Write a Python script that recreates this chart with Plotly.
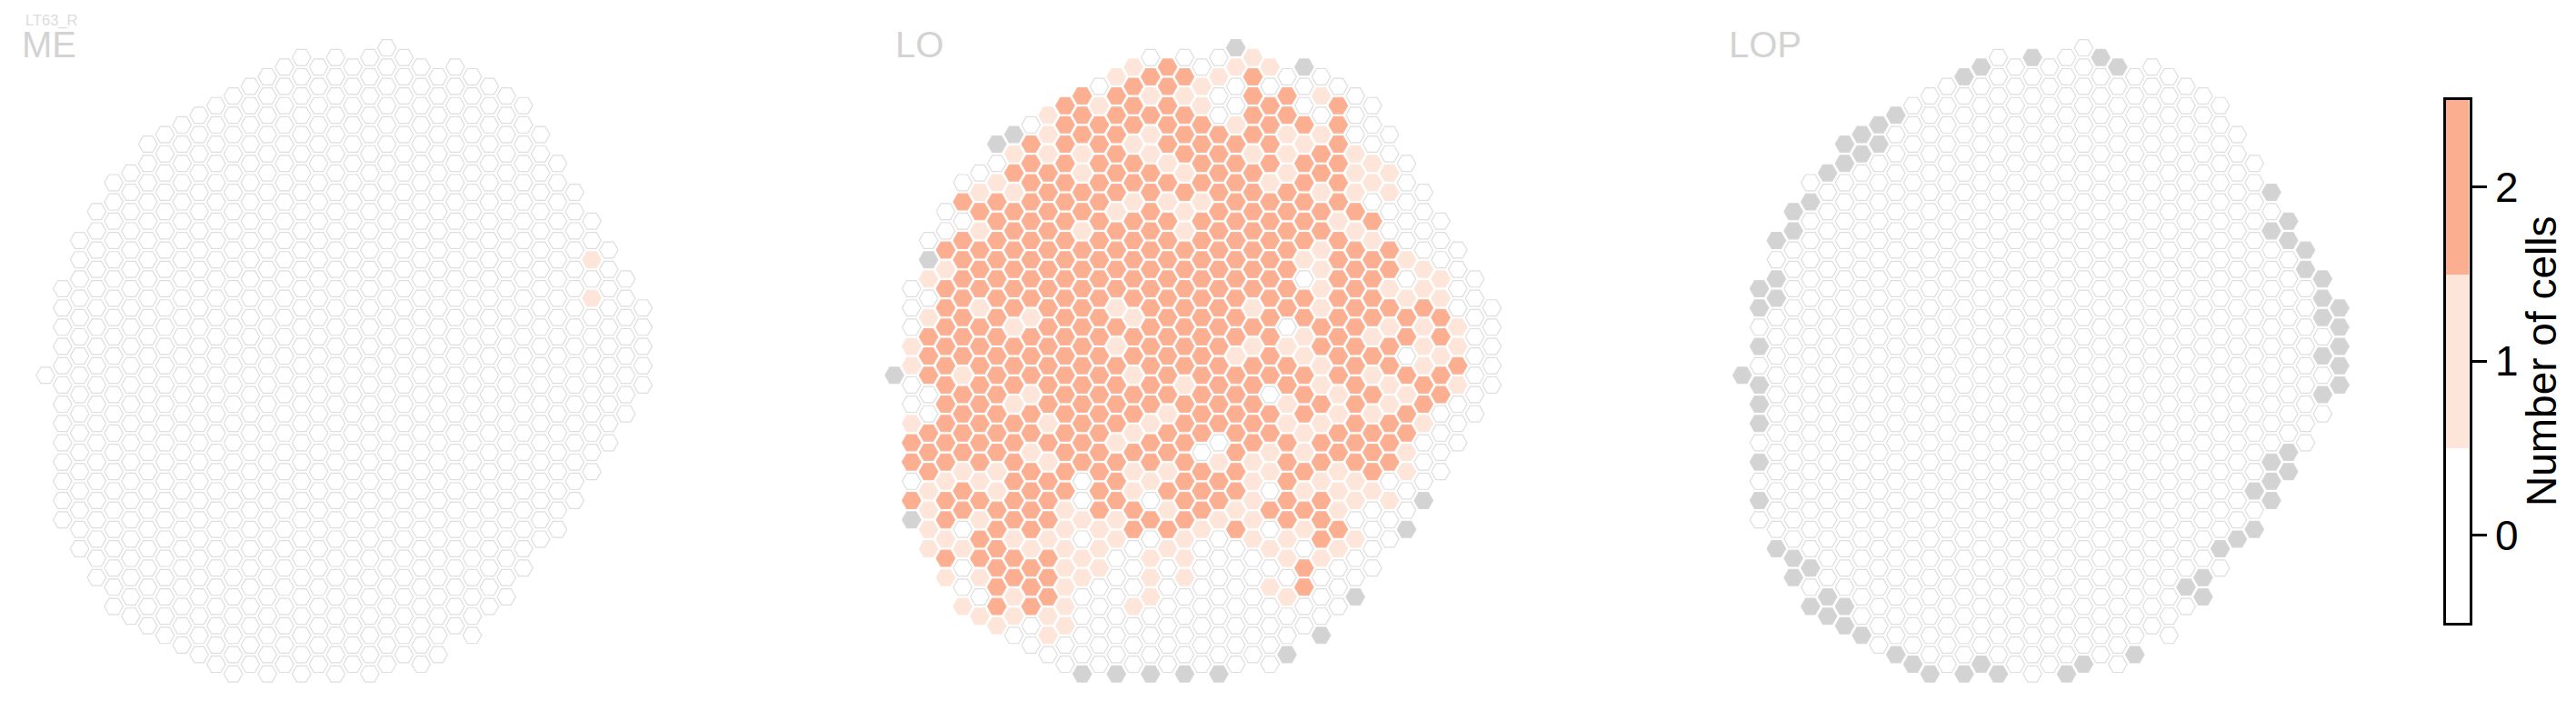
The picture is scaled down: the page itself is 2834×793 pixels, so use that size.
import plotly.graph_objects as go

W, H = 2834, 793

# Hex lattice: each row k holds columns first..last in steps of 2
ROW_FIRST = [0,-5,-6,-7,-8,-9,-10,-11,-12,-13,-14,-13,-14,-15,-16,-15,-16,-17,-16,-17,-18,-17,-18,-17,-18,-19,-18,-19,-18,-19,-18,-19,-18,-19,-20,-19,-18,-19,-18,-19,-18,-19,-18,-19,-18,-19,-18,-19,-18,-19,-18,-17,-18,-17,-16,-17,-16,-15,-16,-15,-14,-13,-12,-11,-10,-9]
ROW_LAST = [0,1,4,5,6,7,8,7,8,9,8,9,10,9,10,11,10,11,12,11,12,13,12,13,14,13,14,15,14,15,14,15,14,15,14,15,14,13,14,13,12,13,12,11,12,11,10,11,10,9,10,9,8,7,8,7,6,7,6,5,4,5,2,3,2,-1]

# Number of cells per hex, row by row (x = no data)
LO_ROWS = [
    "x", "0001", "12011x", "1221200", "02210000", "221102210", "2122102020", "1222202200",
    "02222212220", "x12212221100", "x22212222120", "111212211210", "0222212222210",
    "0221221221211", "01222222212210", "11222222221110", "22222111222200", "022221212222200",
    "022222222221200", "012212212222100", "0222222222222100", "2222222222212200",
    "x222222222212210", "1222222222212210", "12222222222022010",
    "02222222222212110",
    "02222222222222110", "021222122212122200", "12212212222222220",
    "022122222220221110", "22222222222121220", "122222122211222110",
    "22222222212122010", "122222222222122120", "x21222212222221220",
    "022222221222121210", "02212222220212120", "02212222222122120",
    "02222221222211200", "12221221222112210", "2222221222212220",
    "22222212202222200", "2221222202112210", "2222122221122220",
    "2112221122121210", "0112202122121100", "121222122201110",
    "222220202212211x", "122212212122100", "x21221122112200",
    "10221122120120x", "12110101011210", "11211101001010", "2222101100110",
    "0221100000200", "1122101100000", "022100000120", "01200100010x",
    "122101000000", "11100000000", "1010000000", "010000000x", "00000000",
    "0000000x", "0000000", "xxxxx",
]
ME_ONE_CELLS = [(12, 22), (12, 26)]
LOP_NODATA_CELLS = [
    (-3,1),(1,1),(-6,2),(2,2),(-7,3),(-11,7),(-12,8),(-13,9),(-14,10),(-12,10),(-13,11),(-14,12),
    (-15,13),(11,15),(-16,16),(-17,17),(12,18),(-17,19),(11,19),(-18,20),(12,20),(13,21),(13,23),
    (-18,24),(14,24),(-19,25),(-18,26),(14,26),(-19,27),(15,27),(14,28),(15,29),(-19,31),(15,31),
    (14,32),(15,33),(-20,34),(-19,35),(15,35),(14,36),(-19,37),(-19,39),(12,42),(-19,43),(11,43),
    (12,44),(11,45),(10,46),(-19,47),(11,47),(10,50),(9,51),(-18,52),(8,52),(-17,53),(-16,54),
    (-17,55),(7,55),(6,56),(-15,57),(7,57),(-16,58),(-14,58),(-15,59),(-14,60),(-13,61),(-11,63),
    (3,63),(-10,64),(-6,64),(0,64),(-9,65),(-7,65),(-5,65),(-1,65),
]

PANEL_NAMES = ["ME", "LO", "LOP"]
SUBJECT = "LT63_R"
CBAR_VALUES = [0, 1, 2]
CBAR_TITLE = "Number of cells"

COLORS = {"0": "#ffffff", "1": "#fee5d9", "2": "#fcae91", "x": "#d3d3d3"}
LINES = {"0": "#dedede", "1": "#fde7dc", "2": "#fcb398", "x": "#d6d6d6"}
FONT = "Liberation Sans"

# pixel layout
DX, DK, Y0 = 18.78, 10.594, 52.6
X0 = [425.6, 1359.6, 2292.3]
HALF_W = 10.3 / DX
HALF_H = 8.9 / DK


def cells():
    for k, (a, b) in enumerate(zip(ROW_FIRST, ROW_LAST)):
        for c in range(a, b + 1, 2):
            yield c, k


def grids():
    all_cells = list(cells())
    me = {cell: "0" for cell in all_cells}
    for cell in ME_ONE_CELLS:
        me[cell] = "1"
    lo = {}
    for k, (a, b, row) in enumerate(zip(ROW_FIRST, ROW_LAST, LO_ROWS)):
        assert len(row) == (b - a) // 2 + 1, (k, row, (b - a) // 2 + 1, len(row))
        for i, v in enumerate(row):
            lo[(a + 2 * i, k)] = v
    lop = {cell: "0" for cell in all_cells}
    for cell in LOP_NODATA_CELLS:
        assert cell in lop, cell
        lop[cell] = "x"
    return [me, lo, lop]


def hex_path(cells_):
    xs, ys = [], []
    for c, k in cells_:
        xs += [c - HALF_W, c - HALF_W / 2, c + HALF_W / 2, c + HALF_W, c + HALF_W / 2, c - HALF_W / 2, c - HALF_W, None]
        ys += [k, k - HALF_H, k - HALF_H, k, k + HALF_H, k + HALF_H, k, None]
    return xs, ys


fig = go.Figure()
for p, grid in enumerate(grids()):
    n = "" if p == 0 else str(p + 1)
    for v in "012x":
        sel = [cell for cell, val in grid.items() if val == v]
        if not sel:
            continue
        xs, ys = hex_path(sel)
        fig.add_trace(go.Scatter(
            x=xs, y=ys, xaxis=f"x{n}", yaxis=f"y{n}", mode="lines", fill="toself",
            fillcolor=COLORS[v], line=dict(color=LINES[v], width=1.2), hoverinfo="skip", showlegend=False,
        ))

layout = dict(
    width=W, height=H, margin=dict(l=0, r=0, t=0, b=0), paper_bgcolor="white", plot_bgcolor="white",
    font=dict(family=FONT, color="black"), showlegend=False,
)
PANEL_L = [0, 950, 1880]
PANEL_R = [900, 1800, 2660]
for p in range(3):
    n = "" if p == 0 else str(p + 1)
    L, R = PANEL_L[p], PANEL_R[p]
    layout[f"xaxis{n}"] = dict(domain=[L / W, R / W], range=[(L - X0[p]) / DX, (R - X0[p]) / DX],
                               visible=False, fixedrange=True)
    layout[f"yaxis{n}"] = dict(domain=[0, 1], range=[(H - Y0) / DK, -Y0 / DK], visible=False, fixedrange=True)

# colour scale bar
fig.add_trace(go.Heatmap(
    z=[[v] for v in CBAR_VALUES], y=CBAR_VALUES, x=[0], xaxis="x4", yaxis="y4", zmin=0, zmax=2, showscale=False,
    colorscale=[[0, COLORS["0"]], [0.25, COLORS["0"]], [0.25, COLORS["1"]], [0.75, COLORS["1"]],
                [0.75, COLORS["2"]], [1, COLORS["2"]]], hoverinfo="skip",
))
BAR = (2690.5, 2716.5, 110.0, 684.5)
layout["xaxis4"] = dict(domain=[BAR[0] / W, BAR[1] / W], range=[-0.5, 0.5], showticklabels=False, ticks="",
                        showgrid=False, zeroline=False, showline=True, linecolor="black", linewidth=3.4,
                        mirror=True, anchor="y4", fixedrange=True)
layout["yaxis4"] = dict(domain=[1 - BAR[3] / H, 1 - BAR[2] / H], range=[-0.5, 2.5], side="right", anchor="x4",
                        tickvals=CBAR_VALUES, ticktext=[str(v) for v in CBAR_VALUES], ticks="outside",
                        ticklen=16, tickwidth=3.4, tickcolor="black", showgrid=False, zeroline=False,
                        showline=True, linecolor="black", linewidth=3.4, mirror=True, fixedrange=True,
                        tickfont=dict(size=46, family=FONT, color="black"),
                        title=dict(text=CBAR_TITLE, font=dict(size=46, family=FONT, color="black"), standoff=10))

TITLE_X = [22, 983, 1900]
ann = []
for name, x in zip(PANEL_NAMES, TITLE_X):
    ann.append(dict(text=name, x=x / W, y=1 - 49 / H, xref="paper", yref="paper", xanchor="left", yanchor="middle",
                    showarrow=False, font=dict(size=40, family=FONT, color="#d3d3d3")))
ann.append(dict(text=SUBJECT, x=26 / W, y=1 - 22 / H, xref="paper", yref="paper", xanchor="left", yanchor="middle",
                showarrow=False, font=dict(size=16.5, family=FONT, color="#dcdcdc")))
layout["annotations"] = ann
fig.update_layout(**layout)
fig.write_html("out.html", config={"displayModeBar": False}, post_script="document.body.style.margin='0';")
